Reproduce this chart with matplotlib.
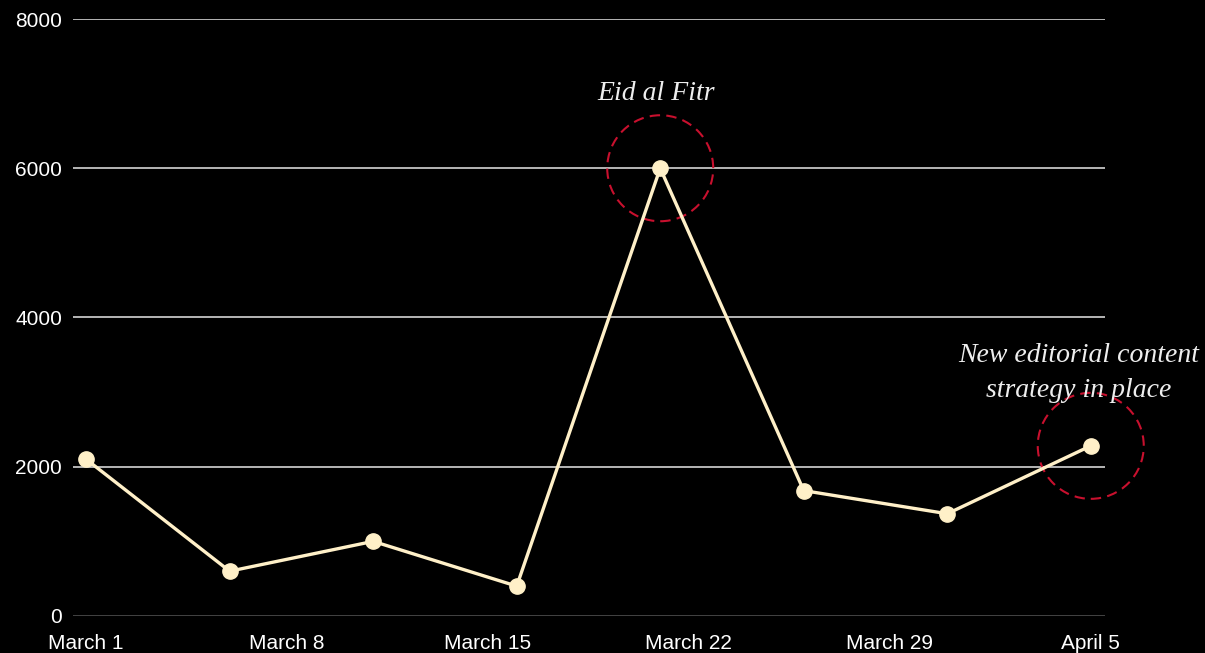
import pandas as pd
import matplotlib.pyplot as plt

# samples every 5 days
dates = pd.date_range('2024-03-01', '2024-04-05', freq='5D')
values = [2100, 600, 1000, 400, 6000, 1680, 1370, 2280]
tick_dates = pd.date_range('2024-03-01', '2024-04-05', freq='7D')
tick_labels = ['March 1', 'March 8', 'March 15', 'March 22', 'March 29', 'April 5']
y_ticks = [0, 2000, 4000, 6000, 8000]

notes = [('2024-03-21', 6000, 'Eid al Fitr'),
         ('2024-04-05', 2280, 'New editorial content\nstrategy in place')]

LINE = '#fff0c8'
RED = '#c8102e'


def main():
    fig = plt.figure(figsize=(12.05, 6.53), dpi=100, facecolor='black')
    ax = fig.add_axes([0.0606, 0.0567, 0.8565, 0.9142], facecolor='black')

    ax.set_ylim(0, 8000)
    ax.set_xlim(dates[0] - pd.Timedelta(hours=11), dates[-1] + pd.Timedelta(hours=12))
    ax.set_yticks(y_ticks)
    for y in y_ticks:
        ax.axhline(y, color='#555555' if y == 0 else '#e6e6e6', lw=1.1, zorder=1)

    # dashed rings around the annotated points
    for d, v, _ in notes:
        ax.scatter([pd.Timestamp(d)], [v], s=(106 * 0.72) ** 2, facecolors='none',
                   edgecolors=RED, linewidths=1.5, linestyles=(0, (5, 3)),
                   zorder=2, clip_on=False)

    ax.plot(dates, values, color=LINE, lw=2.4, marker='o', markersize=11,
            markerfacecolor=LINE, markeredgecolor=LINE, zorder=3, clip_on=False)

    ax.annotate(notes[0][2], (pd.Timestamp(notes[0][0]), notes[0][1]),
                xytext=(-4, 75), textcoords='offset pixels', ha='center', va='center',
                color='#eeeeee', fontsize=20, family='Liberation Serif', style='italic')
    ax.annotate(notes[1][2], (pd.Timestamp(notes[1][0]), notes[1][1]),
                xytext=(-12, 73), textcoords='offset pixels', ha='center', va='center',
                color='#eeeeee', fontsize=20, family='Liberation Serif', style='italic',
                linespacing=1.55, annotation_clip=False)

    ax.set_xticks(tick_dates)
    ax.set_xticklabels(tick_labels)
    ax.tick_params(axis='both', length=0, colors='white', labelsize=15)
    ax.tick_params(axis='x', pad=13)
    ax.tick_params(axis='y', pad=8)
    for lab in ax.get_xticklabels() + ax.get_yticklabels():
        lab.set_family('Liberation Sans')
    for s in ax.spines.values():
        s.set_visible(False)

    fig.savefig('out.png', dpi=100, facecolor='black')


if __name__ == "__main__":
    main()
